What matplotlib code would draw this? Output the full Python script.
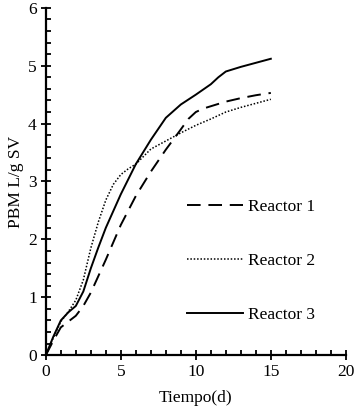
import numpy as np
import matplotlib
matplotlib.use("Agg")
import matplotlib.pyplot as plt
from matplotlib.ticker import MultipleLocator

# Datos
t_r1 = [0, 0.5, 1, 1.5, 2, 2.5, 3, 4, 5, 6, 7, 8, 9, 9.5, 10, 10.5, 11, 12, 13, 14, 15]
v_r1 = [0, 0.25, 0.48, 0.58, 0.68, 0.85, 1.08, 1.65, 2.25, 2.75, 3.17, 3.55, 3.9, 4.08, 4.2, 4.26, 4.3, 4.38, 4.44, 4.49, 4.53]

t_r2 = [0, 0.5, 1, 1.5, 2, 2.5, 3, 3.5, 4, 4.5, 5, 5.5, 6, 7, 8, 9, 10, 11, 12, 13, 14, 15]
v_r2 = [0, 0.3, 0.58, 0.75, 0.95, 1.3, 1.85, 2.3, 2.68, 2.95, 3.12, 3.22, 3.3, 3.56, 3.7, 3.84, 3.97, 4.08, 4.2, 4.28, 4.35, 4.42]

t_r3 = [0, 0.5, 1, 1.5, 2, 2.5, 3, 3.5, 4, 5, 6, 7, 8, 9, 10, 11, 11.5, 12, 13, 14, 15]
v_r3 = [0, 0.32, 0.6, 0.74, 0.85, 1.1, 1.5, 1.86, 2.2, 2.78, 3.3, 3.72, 4.1, 4.33, 4.5, 4.68, 4.8, 4.9, 4.98, 5.05, 5.12]

labels = ["Reactor 1", "Reactor 2", "Reactor 3"]

plt.rcParams['font.family'] = ['Liberation Serif', 'DejaVu Serif']
plt.rcParams['font.size'] = 12.5

fig = plt.figure(figsize=(3.58, 4.12), dpi=100)
ax = fig.add_axes([0.128, 0.138, 0.838, 0.843])

ax.plot(t_r1, v_r1, color='black', lw=1.4, dashes=(7, 4), label=labels[0])
ax.plot(t_r2, v_r2, color='black', lw=1.1, linestyle=(0, (1, 1.2)), label=labels[1])
ax.plot(t_r3, v_r3, color='black', lw=1.4, linestyle='-', label=labels[2])

ax.set_xlim(0, 20)
ax.set_ylim(0, 6)
ax.xaxis.set_major_locator(MultipleLocator(5))
ax.xaxis.set_minor_locator(MultipleLocator(1))
ax.yaxis.set_major_locator(MultipleLocator(1))
ax.yaxis.set_minor_locator(MultipleLocator(0.2))
ax.tick_params(which='major', direction='inout', length=7, width=1.3, pad=3)
ax.tick_params(which='minor', direction='in', length=3.5, width=1.3)

for s in ['top', 'right']:
    ax.spines[s].set_visible(False)
for s in ['left', 'bottom']:
    ax.spines[s].set_linewidth(1.6)

ax.set_xlabel("Tiempo(d)", labelpad=7)
ax.set_ylabel("PBM L/g SV", labelpad=3)

ax.legend(loc='upper left', bbox_to_anchor=(0.443, 0.475), frameon=False,
          handlelength=3.2, handletextpad=0.3, labelspacing=2.17, borderpad=0)

fig.savefig("out.png", dpi=100)
